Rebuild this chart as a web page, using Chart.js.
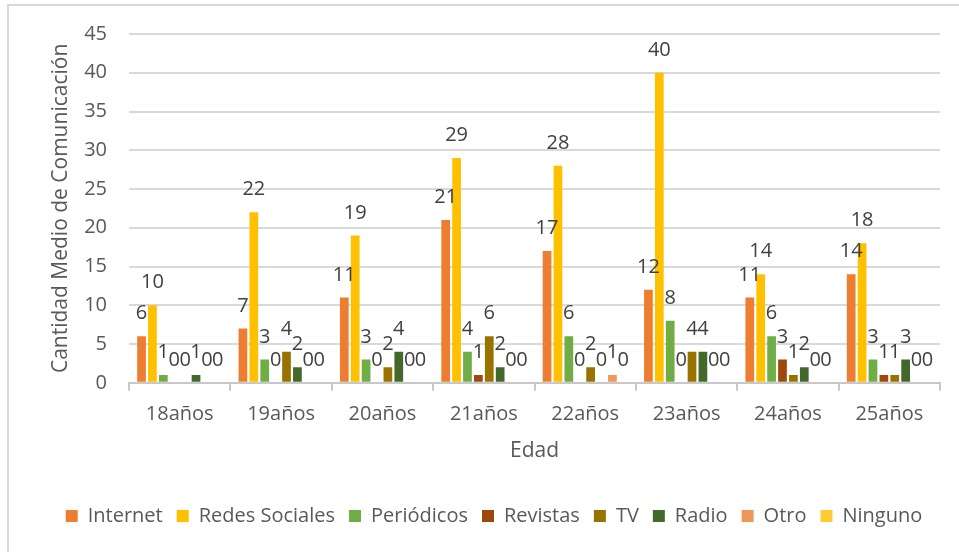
<!DOCTYPE html>
<html>
<head>
<meta charset="utf-8">
<script src="https://cdn.jsdelivr.net/npm/chart.js@4.4.1/dist/chart.umd.min.js"></script>
<style>
  html, body { margin: 0; padding: 0; background: #fff; overflow: hidden; }
  #wrap { position: relative; width: 959px; height: 552px; }
  #frame { position: absolute; left: 7px; top: 4px; width: 1000px; height: 600px; border: 2px solid #d9d9d9; box-sizing: border-box; }
  canvas { position: absolute; left: 0; top: 0; }
</style>
</head>
<body>
<div id="wrap">
  <div id="frame"></div>
  <canvas id="myChart" width="959" height="552"></canvas>
</div>
<script>
// edades (categorias)
const edades = ['18años', '19años', '20años', '21años', '22años', '23años', '24años', '25años'];

// valores por medio
const internet      = [6, 7, 11, 21, 17, 12, 11, 14];
const redesSociales = [10, 22, 19, 29, 28, 40, 14, 18];
const periodicos    = [1, 3, 3, 4, 6, 8, 6, 3];
const revistas      = [0, 0, 0, 1, 0, 0, 3, 1];
const tv            = [0, 4, 2, 6, 2, 4, 1, 1];
const radio         = [1, 2, 4, 2, 0, 4, 2, 3];
const otro          = [0, 0, 0, 0, 1, 0, 0, 0];
const ninguno       = [0, 0, 0, 0, 0, 0, 0, 0];

const series = [
  ['Internet', internet, '#ED7D31'],
  ['Redes Sociales', redesSociales, '#FFC000'],
  ['Periódicos', periodicos, '#70AD47'],
  ['Revistas', revistas, '#9E480E'],
  ['TV', tv, '#997300'],
  ['Radio', radio, '#43682B'],
  ['Otro', otro, '#F1975A'],
  ['Ninguno', ninguno, '#FFCD33']
];

const FONT = "'Open Sans', sans-serif";
const GRIS = '#595959';

// etiquetas de datos encima de cada barra
const etiquetas = {
  id: 'etiquetas',
  afterDatasetsDraw(chart) {
    const ctx = chart.ctx;
    ctx.save();
    ctx.font = '20px ' + FONT;
    ctx.fillStyle = '#404040';
    ctx.textAlign = 'center';
    ctx.textBaseline = 'alphabetic';
    chart.data.datasets.forEach((ds, i) => {
      const meta = chart.getDatasetMeta(i);
      meta.data.forEach((bar, j) => {
        ctx.fillText(String(ds.data[j]), bar.x, bar.y - 17);
      });
    });
    ctx.restore();
  }
};

const ctx = document.getElementById('myChart').getContext('2d');
new Chart(ctx, {
  type: 'bar',
  data: {
    labels: edades,
    datasets: series.map(s => ({
      label: s[0],
      data: s[1],
      backgroundColor: s[2],
      borderWidth: 0,
      barPercentage: 0.8,
      categoryPercentage: 0.86
    }))
  },
  options: {
    responsive: false,
    animation: false,
    devicePixelRatio: 1,
    layout: { padding: { left: 48, right: 19, top: 33, bottom: 16 } },
    plugins: {
      legend: {
        position: 'bottom',
        labels: {
          font: { family: FONT, size: 20 },
          color: GRIS,
          boxWidth: 12,
          boxHeight: 12,
          padding: 14
        }
      },
      tooltip: { enabled: false }
    },
    scales: {
      x: {
        grid: {
          display: true,
          drawOnChartArea: false,
          drawTicks: true,
          tickLength: 8,
          offset: true,
          color: '#c8c8c8',
          lineWidth: 2
        },
        border: { display: true, color: '#c8c8c8', width: 2 },
        ticks: { font: { family: FONT, size: 20 }, color: GRIS, padding: 11, maxRotation: 0 },
        title: {
          display: true,
          text: 'Edad',
          font: { family: FONT, size: 21 },
          color: GRIS,
          padding: { top: 2, bottom: 28 }
        }
      },
      y: {
        min: 0,
        max: 45,
        afterFit(scale) { scale.width = 81; },
        ticks: { stepSize: 5, font: { family: FONT, size: 20 }, color: GRIS, padding: 22 },
        grid: { color: '#d9d9d9', lineWidth: 2, drawTicks: false },
        border: { display: false },
        title: {
          display: true,
          text: 'Cantidad Medio de Comunicación',
          font: { family: FONT, size: 21 },
          color: GRIS,
          padding: { top: 0, bottom: 11 }
        }
      }
    }
  },
  plugins: [etiquetas]
});
</script>
</body>
</html>
